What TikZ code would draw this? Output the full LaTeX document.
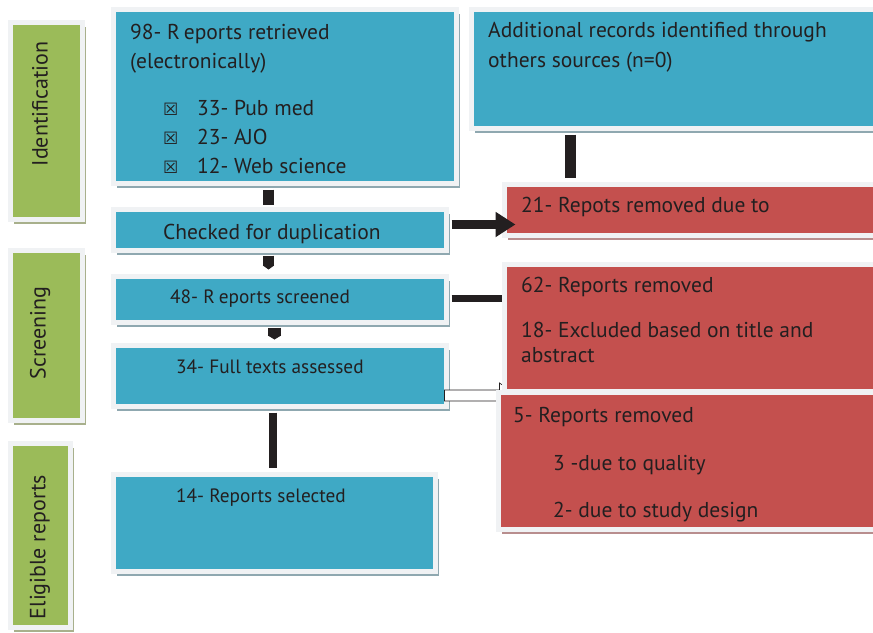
\documentclass[tikz,border=0pt]{standalone}
\usepackage{fontspec}
\setmainfont{PT Sans}
\newfontfamily\symfont{DejaVu Sans}
\usetikzlibrary{arrows.meta, shadows}

\definecolor{boxblue}{RGB}{63,169,197}
\definecolor{boxred}{RGB}{196,80,78}
\definecolor{boxgreen}{RGB}{155,187,89}
\definecolor{rim}{RGB}{240,242,244}
\definecolor{ink}{RGB}{35,31,32}
\definecolor{shblue}{RGB}{143,168,176}
\definecolor{shred}{RGB}{184,142,142}
\definecolor{shgreen}{RGB}{168,176,140}

\newcommand{\chk}{{\symfont\fontsize{17}{17}\selectfont ☒}}

\begin{document}
\begin{tikzpicture}[x=1pt, y=-1pt,
    stage/.style={rectangle, draw=rim, line width=5pt, fill=boxgreen,
                  drop shadow={shadow xshift=3pt, shadow yshift=-4pt, fill=shgreen, opacity=1}},
    info/.style={rectangle, draw=rim, line width=5pt, fill=boxblue,
                 drop shadow={shadow xshift=3pt, shadow yshift=-4pt, fill=shblue, opacity=1}},
    cut/.style={rectangle, draw=rim, line width=5pt, fill=boxred,
                drop shadow={shadow xshift=3pt, shadow yshift=-4pt, fill=shred, opacity=1}},
    txt/.style={anchor=base west, inner sep=0pt, align=left, text=ink,
                font=\fontsize{21.5}{29}\selectfont},
    small/.style={font=\fontsize{19.3}{29}\selectfont},
    side/.style={rotate=90, inner sep=0pt, text=ink, font=\fontsize{22}{22}\selectfont},
    bar/.style={draw=ink, line width=#1},
]
\clip (0,0) rectangle (873,632);

% phases
\node[stage, minimum width=72pt, minimum height=197pt] (idg) at (46.5,121) {};
\node[stage, minimum width=72pt, minimum height=170pt] (scg) at (46.5,335.5) {};
\node[stage, minimum width=60pt, minimum height=184pt] (elg) at (40.5,535.5) {};
\node[side] (idt) at (40,104) {Identification};
\node[side] (sct) at (40,333) {Screening};
\node[side] (elt) at (40,547) {Eligible reports};

% flow boxes
\node[info, minimum width=343pt, minimum height=174pt] (ret) at (285,96.5) {};
\node[info, minimum width=411pt, minimum height=119pt] (add) at (677,69) {};
\node[info, minimum width=333pt, minimum height=41pt]  (dup) at (280,230) {};
\node[info, minimum width=333pt, minimum height=46pt]  (scr) at (280,299.5) {};
\node[info, minimum width=333pt, minimum height=61pt]  (ful) at (280,376) {};
\node[info, minimum width=322pt, minimum height=97pt]  (sel) at (274.5,523) {};

% links running under the red boxes
\draw[bar=7pt] ([xshift=2.5pt,yshift=1pt]scr.east) -- ([yshift=1pt]scr.east -| 505,0);
\draw[line width=0.7pt, draw=ink, fill=white]
    ([xshift=-4.5pt,yshift=-14pt]ful.east) -- ++(55,0) -- ++(0,-7) -- ++(18,12.5)
    -- ++(-18,12.5) -- ++(0,-7) -- ++(-55,0) -- cycle;

% removal boxes
\node[cut, minimum width=378pt, minimum height=51pt]  (r21) at (693.5,210) {};
\node[cut, minimum width=378pt, minimum height=127pt] (r62) at (693.5,328) {};
\node[cut, minimum width=384pt, minimum height=137pt] (r5)  at (690.5,461) {};

% links
\draw[bar=11pt] ([xshift=-16.5pt,yshift=-3.5pt]ret.south) -- ([xshift=-16.5pt,yshift=2.5pt]ret.south |- dup.north);
\draw[bar=11pt, -{Triangle[width=11pt,length=4pt]}] ([xshift=-11.5pt,yshift=-2.5pt]dup.south) -- ([xshift=-11.5pt,yshift=4.5pt]dup.south |- scr.north);
\draw[bar=13pt, -{Triangle[width=13pt,length=4pt]}] ([xshift=-5.5pt,yshift=-2.5pt]scr.south) -- ([xshift=-5.5pt,yshift=3.5pt]scr.south |- ful.north);
\draw[bar=8pt] ([xshift=-7pt,yshift=-3.5pt]ful.south) -- ([xshift=-7pt,yshift=4.5pt]ful.south |- sel.north);
\draw[bar=11pt] ([xshift=-106.5pt,yshift=-3.5pt]add.south) -- ([xshift=-106.5pt,yshift=4.5pt]add.south |- r21.north);
\draw[bar=9.5pt, -{Triangle[width=24pt,length=20pt]}] ([xshift=2.5pt,yshift=5.5pt]dup.east) -- ([xshift=13.5pt,yshift=5.5pt]r21.west |- dup.east);

% texts (base = last line)
\node[txt] (rett) at (130,173) {98- R\hspace{4pt}eports retrieved\\(electronically)\\[18pt]
    \hspace*{33pt}\makebox[34pt][l]{\chk}33- Pub med\\
    \hspace*{33pt}\makebox[34pt][l]{\chk}23- AJO\\
    \hspace*{33pt}\makebox[34pt][l]{\chk}12- Web science};
\node[txt, font=\fontsize{21.5}{30}\selectfont] (addt) at (488,67) {Additional records identified through\\others sources (n=0)};
\node[txt] (dupt) at (163,239) {Checked for duplication};
\node[txt] (r21t) at (521,212) {21- Repots removed due to};
\node[txt, small] (scrt) at (170,303) {48- R\hspace{4pt}eports screened};
\node[txt, small] (fult) at (176,373) {34- Full texts assessed};
\node[txt, small] (selt) at (176,502) {14- Reports selected};
\node[txt, font=\fontsize{21.5}{25}\selectfont] (r62t) at (521,362) {62- Reports removed\\[20pt]18- Excluded based on title and\\abstract};
\node[txt] (r5t) at (513,517) {5- Reports removed\\[19pt]\hspace*{40pt}3 -due to quality\\[18pt]\hspace*{40pt}2- due to study design};
\end{tikzpicture}
\end{document}
